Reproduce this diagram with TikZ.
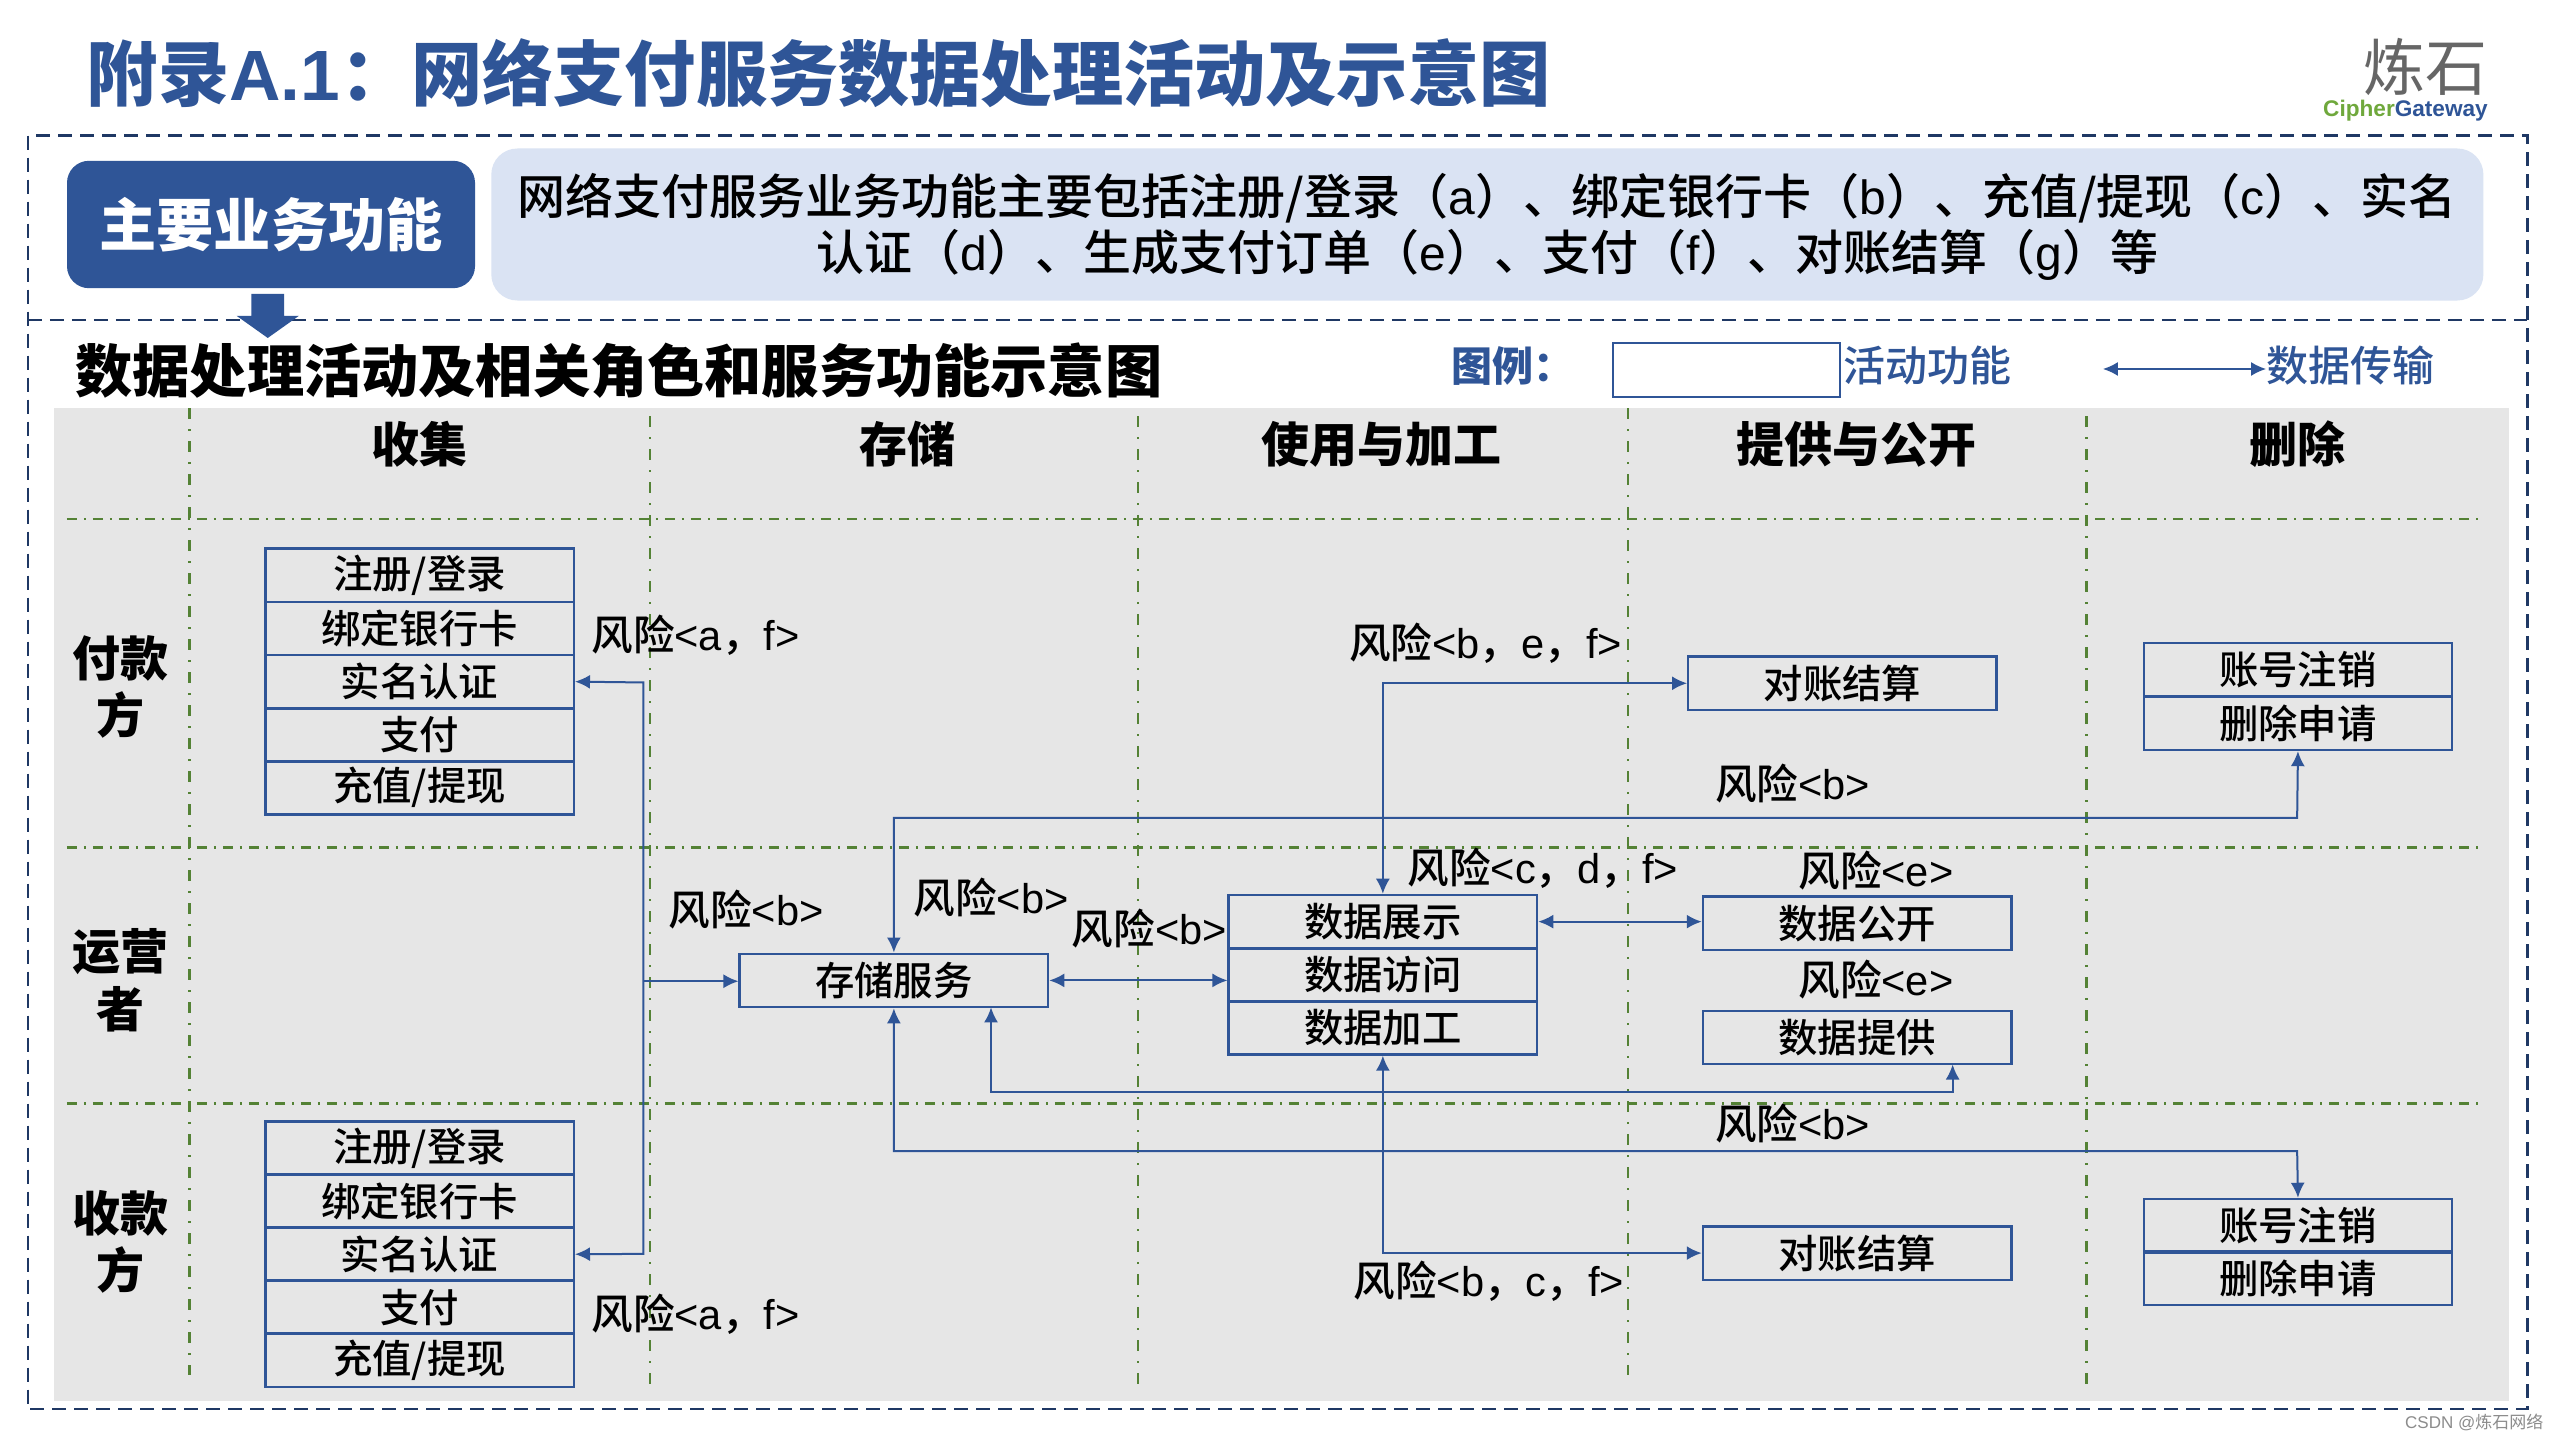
\documentclass[tikz,border=0pt]{standalone}
\usepackage{fontspec}
\setmainfont{Noto Sans CJK SC}
\newcommand{\cjkbold}{\bfseries}
\newfontfamily\cjkmed{Noto Sans CJK SC Medium}
\newfontfamily\lat{Liberation Sans}
\newcommand{\la}[1]{{\lat #1}}
\usetikzlibrary{arrows.meta}
\definecolor{titleblue}{HTML}{2F5597}
\definecolor{navy}{HTML}{1F3864}
\definecolor{lightblue}{HTML}{DAE3F3}
\definecolor{panel}{HTML}{E6E6E6}
\definecolor{gline}{HTML}{548235}
\definecolor{logogrey}{HTML}{666666}
\definecolor{logogreen}{HTML}{6FA83C}
\newcommand{\rsk}[1]{\fontsize{20.8}{24}\selectfont\cjkmed 风险#1}
\tikzset{
 x=0.8163pt,y=-0.8163pt,
 rowcell/.style={draw=titleblue,line width=1.2pt,fill=none,minimum width=154.2pt,minimum height=26.7pt,inner sep=0pt,font=\fontsize{19.7}{24}\selectfont\cjkmed,text=black},
 head/.style={inner sep=0pt,font=\fontsize{24}{28}\selectfont\cjkbold,text=black},
 risk/.style={inner sep=0pt,text=black},
 link/.style={draw=titleblue,line width=1pt,{Latex[length=7.5pt,width=7pt]}-{Latex[length=7.5pt,width=7pt]}},
 linkone/.style={draw=titleblue,line width=1pt,-{Latex[length=7.5pt,width=7pt]}},
 vgrid/.style={draw=gline,line width=1.2pt,dash pattern=on 5.5pt off 5pt on 1pt off 5pt},
 hgrid/.style={draw=gline,line width=1.2pt,dash pattern=on 5pt off 3.5pt on 1pt off 3.5pt},
 outer/.style={draw=navy,line width=1.25pt,dash pattern=on 7pt off 4pt},
}
\begin{document}
\begin{tikzpicture}
\useasboundingbox (0,0) rectangle (1568,882);
\fill[white] (0,0) rectangle (1568,882);
% title
\node[inner sep=0pt,anchor=west,text=titleblue] (title) at (53,45) {\fontsize{35.6}{44}\selectfont\cjkbold 附录\la{A.1}：网络支付服务数据处理活动及示意图};
\node[inner sep=0pt,text=logogrey] (logo) at (1485.5,41) {\fontsize{31}{36}\selectfont 炼石};
\node[inner sep=0pt,anchor=east] (logotext) at (1524,68) {\fontsize{11.3}{14}\selectfont\lat\bfseries\textcolor{logogreen}{Cipher}\textcolor{titleblue}{Gateway}};
% frames
\draw[outer] (17,83) rectangle (1548,863);
\draw[outer] (17,196) -- (1548,196);
% function row
\node[fill=titleblue,rounded corners=11pt,minimum width=204pt,minimum height=63.7pt,inner sep=0pt,text=white,font=\fontsize{28.6}{34}\selectfont\cjkbold] (mainfn) at (166,137.5) {主要业务功能};
\node[fill=lightblue,rounded corners=13pt,minimum width=996pt,minimum height=76pt,inner sep=0pt] (desc) at (911,137.5) {};
\node[inner sep=0pt,align=center,text=black] (desctext) at (911,139) {\fontsize{24}{28}\selectfont\cjkmed 网络支付服务业务功能主要包括注册/登录（\la{a}）、绑定银行卡（\la{b}）、充值/提现（\la{c}）、实名\\[2pt]\fontsize{24}{28}\selectfont\cjkmed 认证（\la{d}）、生成支付订单（\la{e}）、支付（\la{f}）、对账结算（\la{g}）等};
\fill[titleblue] (154,180) -- (174,180) -- (174,193.5) -- (183,193.5) -- (164,207) -- (145,193.5) -- (154,193.5) -- cycle;
\node[inner sep=0pt,anchor=west,text=black] (sub) at (46,227) {\fontsize{28.6}{34}\selectfont\cjkbold 数据处理活动及相关角色和服务功能示意图};
% legend
\node[inner sep=0pt,anchor=west,text=titleblue] (legend) at (889,224) {\fontsize{20.5}{24}\selectfont\cjkbold 图例：};
\node[draw=titleblue,fill=white,line width=1pt,minimum width=113.5pt,minimum height=27pt,inner sep=0pt] (legbox) at (1057.5,226.5) {};
\node[inner sep=0pt,anchor=west,text=titleblue] (legt1) at (1129,224) {\fontsize{21}{24}\selectfont\cjkmed 活动功能};
\coordinate (legl) at (1288,226);
\node[inner sep=0pt,anchor=west,text=titleblue] (legt2) at (1388,224) {\fontsize{21}{24}\selectfont\cjkmed 数据传输};
\draw[link] (legl) -- (legt2.west |- legl);
% panel
\fill[panel] (33,250) rectangle (1537,858);
\foreach \xx/\ya/\yb in {116/250/842,398/255/848,697/255/848,997/250/842,1278/255/848}
  \draw[vgrid] (\xx,\ya) -- (\xx,\yb);
\foreach \yy in {318,519,676}
  \draw[hgrid] (41,\yy) -- (1522,\yy);
% headers
\node[head] (h1) at (257,272) {收集};
\node[head] (h2) at (556,272) {存储};
\node[head] (h3) at (846,272) {使用与加工};
\node[head] (h4) at (1137,272) {提供与公开};
\node[head] (h5) at (1407,272) {删除};
\node[head] (r1a) at (74,403) {付款};
\node[head] (r1b) at (74,438) {方};
\node[head] (r2a) at (74,583) {运营};
\node[head] (r2b) at (74,618) {者};
\node[head] (r3a) at (74,743) {收款};
\node[head] (r3b) at (74,778) {方};
% payer stack
\node[rowcell] (p1) at (257,352.3) {注册/登录};
\node[rowcell] (p2) at (257,385) {绑定银行卡};
\node[rowcell] (p3) at (257,417.5) {实名认证};
\node[rowcell] (p4) at (257,450) {支付};
\node[rowcell] (p5) at (257,482.5) {充值/提现};
% receiver stack
\node[rowcell] (q1) at (257,703.3) {注册/登录};
\node[rowcell] (q2) at (257,735.7) {绑定银行卡};
\node[rowcell] (q3) at (257,768.2) {实名认证};
\node[rowcell] (q4) at (257,800.7) {支付};
\node[rowcell] (q5) at (257,833.2) {充值/提现};
% single boxes
\node[rowcell] (rec1) at (1128.5,418.5) {对账结算};
\node[rowcell] (del1) at (1407.5,410.3) {账号注销};
\node[rowcell] (del2) at (1407.5,443) {删除申请};
\node[rowcell] (del3) at (1407.5,750.7) {账号注销};
\node[rowcell] (del4) at (1407.5,783) {删除申请};
\node[rowcell] (store) at (547.5,600.5) {存储服务};
\node[rowcell] (d1) at (847,564.5) {数据展示};
\node[rowcell] (d2) at (847,597) {数据访问};
\node[rowcell] (d3) at (847,629.5) {数据加工};
\node[rowcell] (open) at (1137.5,565.5) {数据公开};
\node[rowcell] (prov) at (1137.5,635.5) {数据提供};
\node[rowcell] (rec2) at (1137.5,767.5) {对账结算};
% connectors
\coordinate (busT) at (394,418);
\coordinate (busB) at (394,768);
\coordinate (busM) at (394,601);
\draw[link] (p3.east) -- (busT) -- (busB) -- (q3.east);
\draw[linkone] (busM) -- (store.west |- busM);
\draw[link] (store.east) -- (store.east -| d2.west);
\draw[link] (store.north) |- (1407,501) -- (del2.south);
\draw[link] (d1.north) |- (rec1.west);
\draw[link] (d1.east) -- (d1.east -| open.west);
\draw[link] (607,617) |- (1196,669) -- (1196,652);
\draw[link] (store.south) |- (1407,705) -- (del3.north);
\draw[link] (d3.south) |- (rec2.west);
% risk labels
\node[risk] (k1) at (426,389) {\rsk{\la{<a}，\la{f>}}};
\node[risk] (k2) at (910,394) {\rsk{\la{<b}，\la{e}，\la{f>}}};
\node[risk] (k3) at (1098,480) {\rsk{\la{<b>}}};
\node[risk] (k4) at (457,557) {\rsk{\la{<b>}}};
\node[risk] (k5) at (607,550) {\rsk{\la{<b>}}};
\node[risk] (k6) at (704,569) {\rsk{\la{<b>}}};
\node[risk] (k7) at (945,532) {\rsk{\la{<c}，\la{d}，\la{f>}}};
\node[risk] (k8) at (1149,533) {\rsk{\la{<e>}}};
\node[risk] (k9) at (1149,600) {\rsk{\la{<e>}}};
\node[risk] (k10) at (1098,688) {\rsk{\la{<b>}}};
\node[risk] (k11) at (912,785) {\rsk{\la{<b}，\la{c}，\la{f>}}};
\node[risk] (k12) at (426,805) {\rsk{\la{<a}，\la{f>}}};
\node[inner sep=0pt,anchor=east,text=black!45] (wm) at (1558,871) {\fontsize{8.5}{10}\selectfont\lat CSDN @{\rmfamily 炼石网络}};
\end{tikzpicture}
\end{document}
